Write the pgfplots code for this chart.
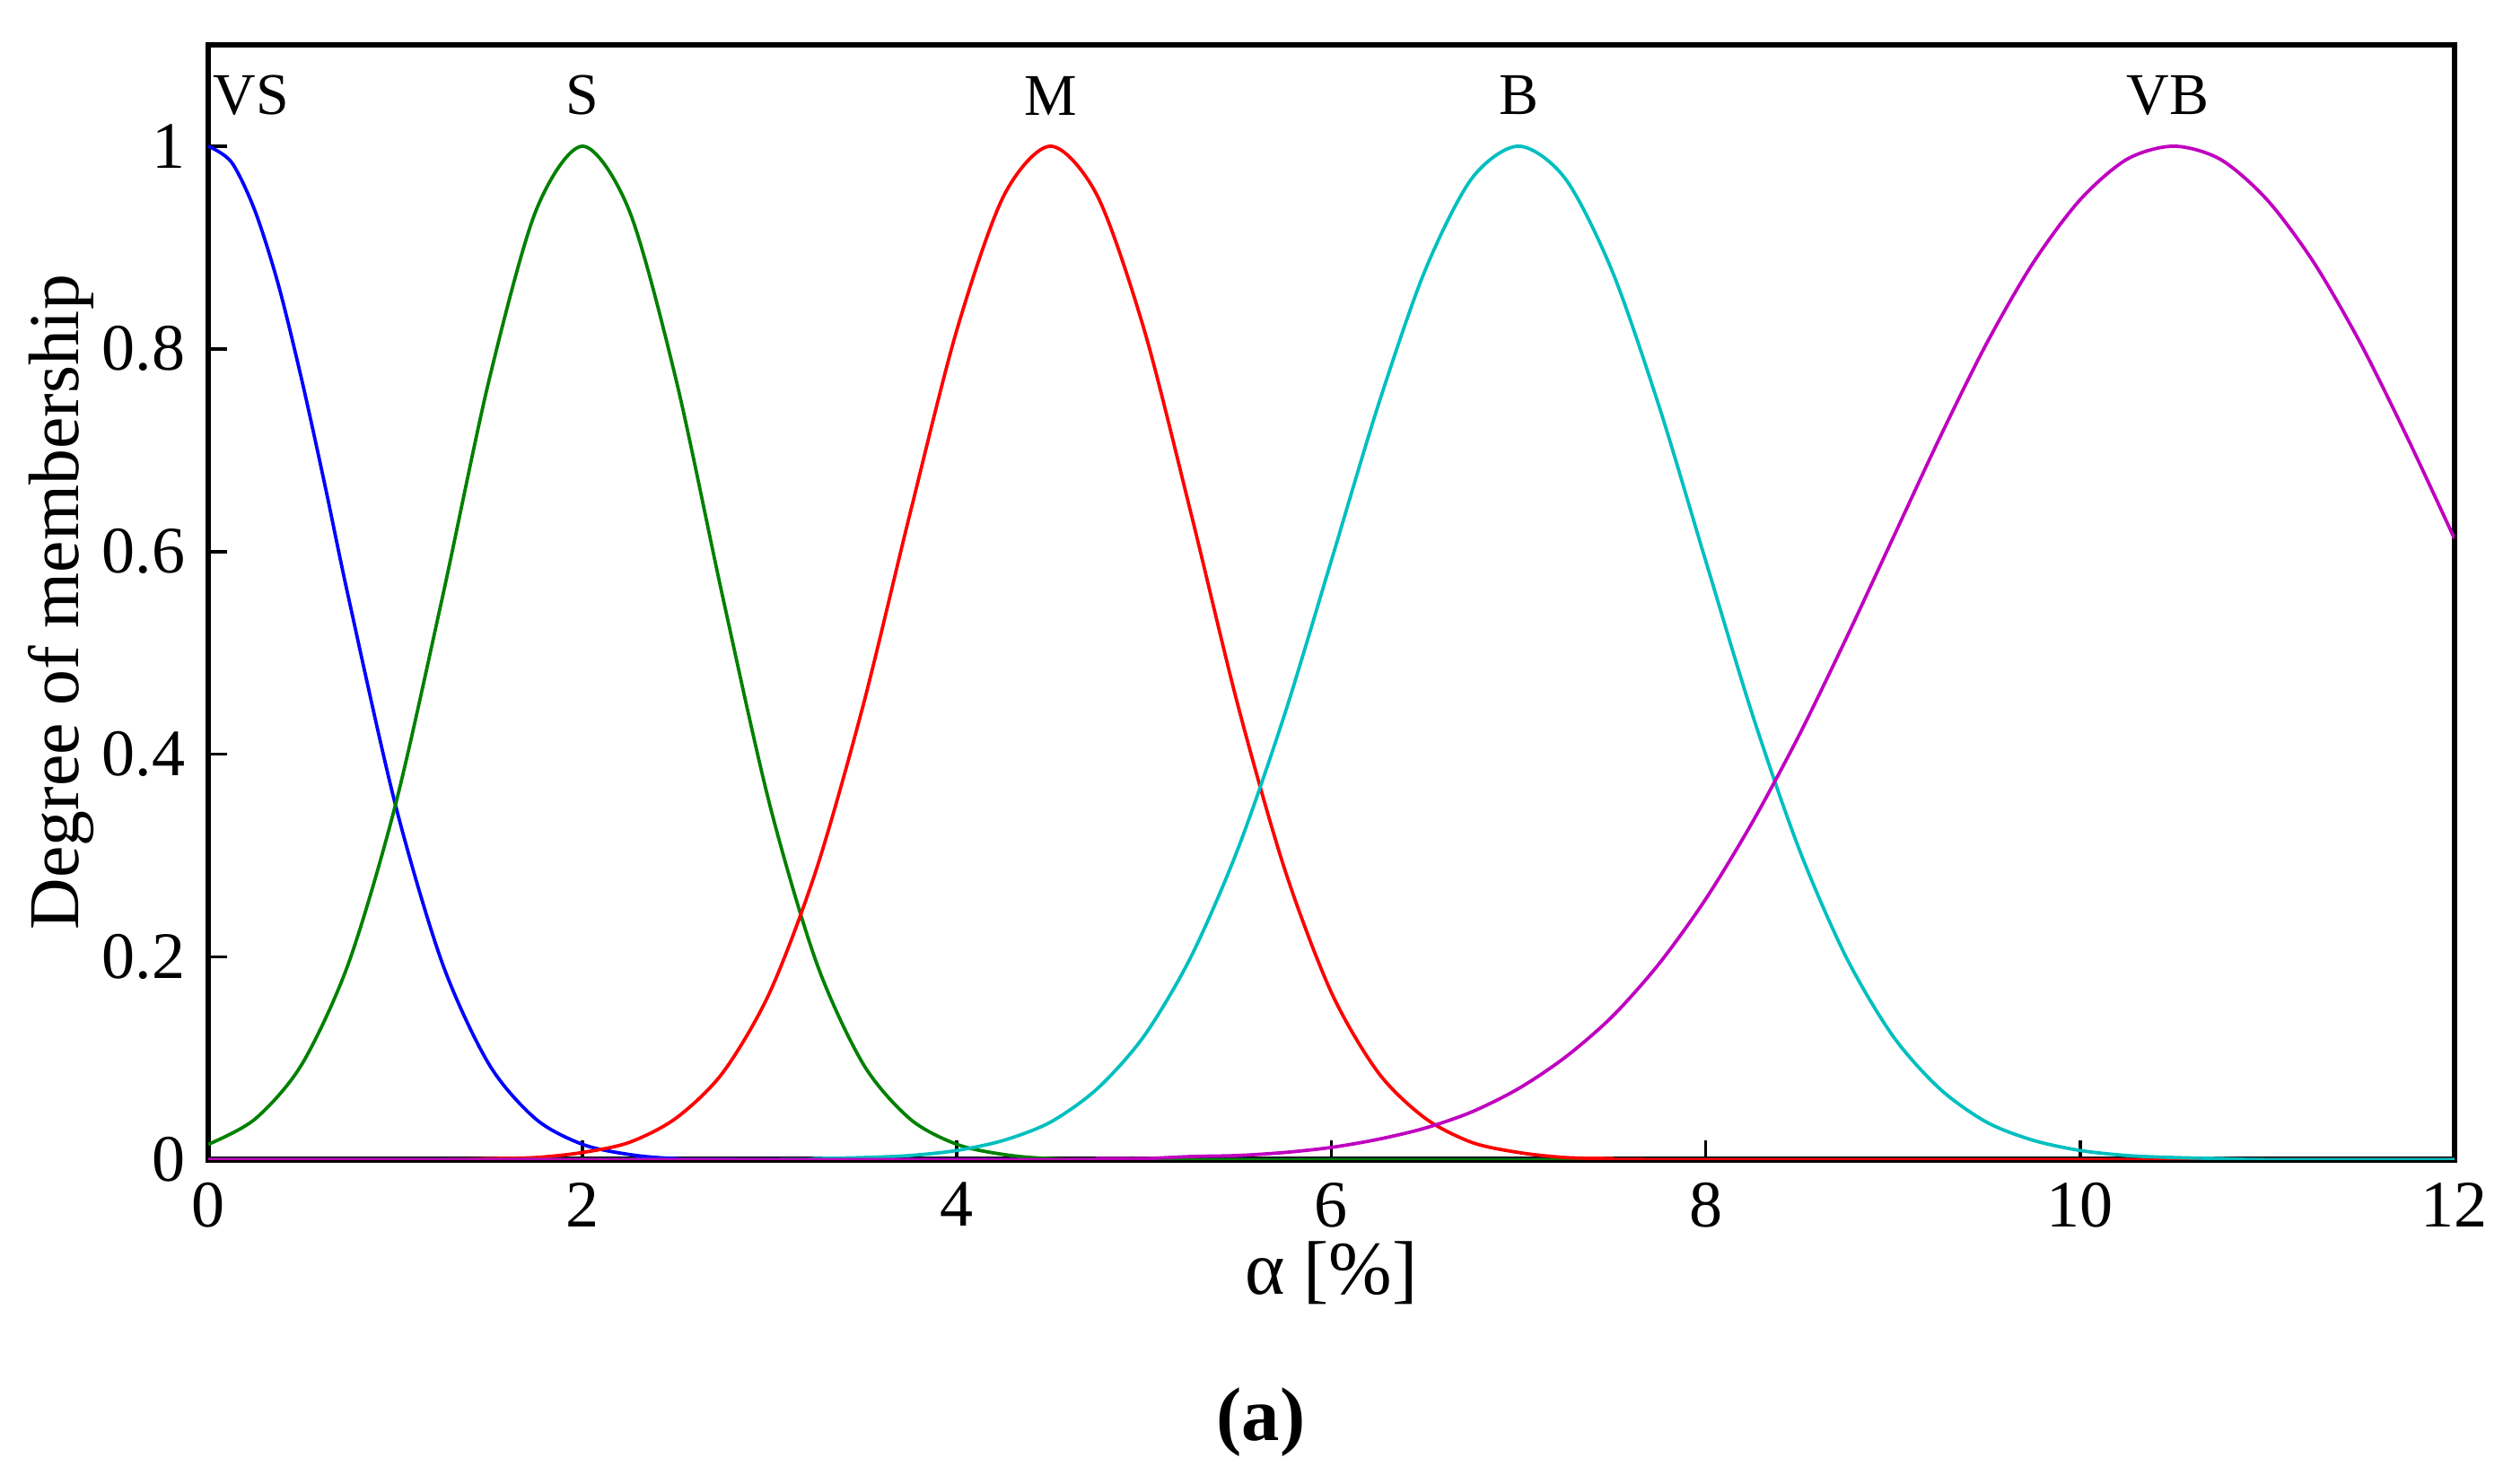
\documentclass[border=0pt]{standalone}
\usepackage{fontspec}
\setmainfont{Liberation Serif}
\usepackage{pgfplots}
\pgfplotsset{compat=1.18}
\usetikzlibrary{calc}

\definecolor{mfBlue}{rgb}{0,0,1}
\definecolor{mfGreen}{rgb}{0,0.5,0}
\definecolor{mfRed}{rgb}{1,0,0}
\definecolor{mfCyan}{rgb}{0,0.75,0.75}
\definecolor{mfMagenta}{rgb}{0.75,0,0.75}

\begin{document}
\begin{tikzpicture}
\begin{axis}[
    scale only axis,
    width=14.02cm, height=6.96cm,
    xmin=0, xmax=12, ymin=0, ymax=1.1,
    xtick={0,2,4,6,8,10,12},
    ytick={0,0.2,0.4,0.6,0.8,1},
    yticklabels={0,0.2,0.4,0.6,0.8,1},
    xtick pos=left, ytick pos=left,
    tick align=inside,
    major tick length=0.12cm,
    axis line style={line width=1pt},
    every tick/.style={black, line width=0.6pt},
    tick label style={font=\fontsize{11.8}{13}\selectfont},
    /pgf/number format/assume math mode=true,
    xticklabel style={yshift=-0.02cm},
    yticklabel style={xshift=-0.02cm},
    every axis plot/.append style={line width=0.6pt, smooth, tension=0.5},
]
% VS
\addplot[mfBlue] coordinates {
 (0,1) (0.125,0.984) (0.25,0.936) (0.375,0.863) (0.5,0.769) (0.625,0.664)
 (0.75,0.554) (1,0.350) (1.25,0.194)
 (1.5,0.094) (1.75,0.040) (2,0.015) (2.25,0.005) (2.5,0.001) (3,0) (12,0)};
% S
\addplot[mfGreen] coordinates {
 (0,0.015) (0.25,0.040) (0.5,0.094) (0.75,0.194) (1,0.350) (1.25,0.554)
 (1.5,0.769) (1.75,0.936) (2,1) (2.25,0.936) (2.5,0.769) (2.75,0.554)
 (3,0.350) (3.25,0.194) (3.5,0.094) (3.75,0.040) (4,0.015) (4.25,0.005)
 (4.5,0.001) (5,0) (12,0)};
% M
\addplot[mfRed] coordinates {
 (0,0) (1.25,0) (1.5,0.001) (1.75,0.002) (2,0.007) (2.25,0.017) (2.5,0.041)
 (2.75,0.086) (3,0.165) (3.25,0.287) (3.5,0.449) (3.75,0.638) (4,0.819)
 (4.25,0.951) (4.5,1) (4.75,0.951) (5,0.819) (5.25,0.638) (5.5,0.449)
 (5.75,0.287) (6,0.165) (6.25,0.086) (6.5,0.041) (6.75,0.017) (7,0.007)
 (7.25,0.002) (7.5,0.001) (7.75,0) (12,0)};
% B
\addplot[mfCyan] coordinates {
 (0,0) (3,0) (3.25,0.001) (3.5,0.002) (3.75,0.004) (4,0.009) (4.25,0.019)
 (4.5,0.037) (4.75,0.070) (5,0.122) (5.25,0.200) (5.5,0.306) (5.75,0.439)
 (6,0.591) (6.25,0.744) (6.5,0.877) (6.75,0.968) (7,1) (7.25,0.968)
 (7.5,0.877) (7.75,0.744) (8,0.591) (8.25,0.439) (8.5,0.306) (8.75,0.200)
 (9,0.122) (9.25,0.070) (9.5,0.037) (9.75,0.019) (10,0.009) (10.25,0.004)
 (10.5,0.002) (10.75,0.001) (11,0) (12,0)};
% VB
\addplot[mfMagenta] coordinates {
 (0,0) (4.5,0) (4.75,0.001) (5,0.001) (5.25,0.003) (5.5,0.004) (5.75,0.007)
 (6,0.012) (6.25,0.020) (6.5,0.031) (6.75,0.047) (7,0.070) (7.25,0.101)
 (7.5,0.141) (7.75,0.193) (8,0.257) (8.25,0.333) (8.5,0.419) (8.75,0.514)
 (9,0.613) (9.25,0.712) (9.5,0.805) (9.75,0.885) (10,0.947) (10.25,0.987)
 (10.5,1) (10.75,0.987) (11,0.947) (11.25,0.885) (11.5,0.805)
 (11.75,0.712) (12,0.613)};

\node[font=\fontsize{10.5}{12}\selectfont] at (axis cs:0.23,1.05) {VS};
\node[font=\fontsize{10.5}{12}\selectfont] at (axis cs:2,1.05) {S};
\node[font=\fontsize{10.5}{12}\selectfont] at (axis cs:4.5,1.05) {M};
\node[font=\fontsize{10.5}{12}\selectfont] at (axis cs:7,1.05) {B};
\node[font=\fontsize{10.5}{12}\selectfont] at (axis cs:10.47,1.05) {VB};

\coordinate (ll) at (rel axis cs:0,0);
\coordinate (ur) at (rel axis cs:1,1);
\end{axis}

\node[rotate=90, font=\fontsize{12.7}{14}\selectfont]
  at ($(ll)!0.5!(ll|-ur)+(-0.92,0)$) {Degree of membership};
\node[font=\fontsize{13.5}{15}\selectfont]
  at ($(ll)!0.5!(ll-|ur)+(0,-0.71)$) {α [\%]};
\node[font=\fontsize{13.5}{15}\selectfont\bfseries]
  at ($(ll)!0.5!(ll-|ur)+(-0.44,-1.64)$) {(a)};

\pgfresetboundingbox
\path ($(ll)+(-1.30,-2.02)$) rectangle ($(ur)+(0.36,0.28)$);
\end{tikzpicture}
\end{document}
